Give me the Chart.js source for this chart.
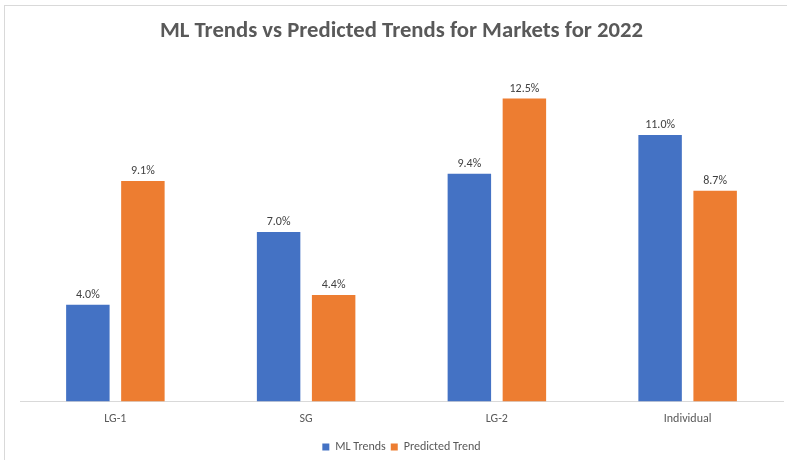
<!DOCTYPE html>
<html>
<head>
<meta charset="utf-8">
<script src="https://cdn.jsdelivr.net/npm/chart.js@4"></script>
<style>
  html, body { margin: 0; padding: 0; width: 787px; height: 460px; overflow: hidden; background: #fff; }
  #wrap { position: absolute; left: 4px; top: 5px; width: 800px; height: 470px; border: 1px solid #d9d9d9; background: #fff; }
  canvas { display: block; }
</style>
</head>
<body>
<div id="wrap"><canvas id="c" width="800" height="460" style="width:800px;height:460px"></canvas></div>
<script>
const categories = ["LG-1", "SG", "LG-2", "Individual"];
const mlTrends = [4.0, 7.0, 9.4, 11.0];
const predictedTrend = [9.1, 4.4, 12.5, 8.7];
const seriesNames = ["ML Trends", "Predicted Trend"];
const titleText = "ML Trends vs Predicted Trends for Markets for 2022";

const FONT = 'Carlito, Calibri, Lato, sans-serif';

const labelPlugin = {
  id: 'barLabels',
  afterDatasetsDraw(chart) {
    const ctx = chart.ctx;
    ctx.save();
    ctx.font = '12px ' + FONT;
    ctx.fillStyle = '#404040';
    ctx.textAlign = 'center';
    ctx.textBaseline = 'bottom';
    chart.data.datasets.forEach((ds, i) => {
      const meta = chart.getDatasetMeta(i);
      meta.data.forEach((bar, j) => {
        ctx.fillText(ds.data[j].toFixed(1) + '%', bar.x, bar.y - 4);
      });
    });
    ctx.restore();
  }
};

new Chart(document.getElementById('c'), {
  type: 'bar',
  data: {
    labels: categories,
    datasets: [
      { label: seriesNames[0], data: mlTrends, backgroundColor: '#4472C4', borderWidth: 0 },
      { label: seriesNames[1], data: predictedTrend, backgroundColor: '#ED7D31', borderWidth: 0 }
    ]
  },
  options: {
    responsive: false,
    animation: false,
    devicePixelRatio: 1,
    layout: { padding: { left: 15, right: 22, top: 0, bottom: 3 } },
    datasets: { bar: { categoryPercentage: 0.577, barPercentage: 0.79 } },
    plugins: {
      title: {
        display: true,
        text: titleText,
        color: '#595959',
        font: { family: FONT, size: 22.7, weight: 'bold' },
        padding: { top: 12, bottom: 17 }
      },
      legend: {
        position: 'bottom',
        labels: {
          color: '#595959',
          font: { family: FONT, size: 12 },
          usePointStyle: true,
          pointStyle: 'rect',
          boxWidth: 7,
          boxHeight: 7,
          padding: 5
        }
      },
      tooltip: { enabled: false }
    },
    scales: {
      x: {
        grid: { display: false, drawTicks: false },
        border: { display: true, color: '#d9d9d9', width: 1 },
        ticks: { color: '#595959', font: { family: FONT, size: 12 }, padding: 10 }
      },
      y: {
        display: false,
        min: 0,
        max: 14
      }
    }
  },
  plugins: [labelPlugin]
});
</script>
</body>
</html>
